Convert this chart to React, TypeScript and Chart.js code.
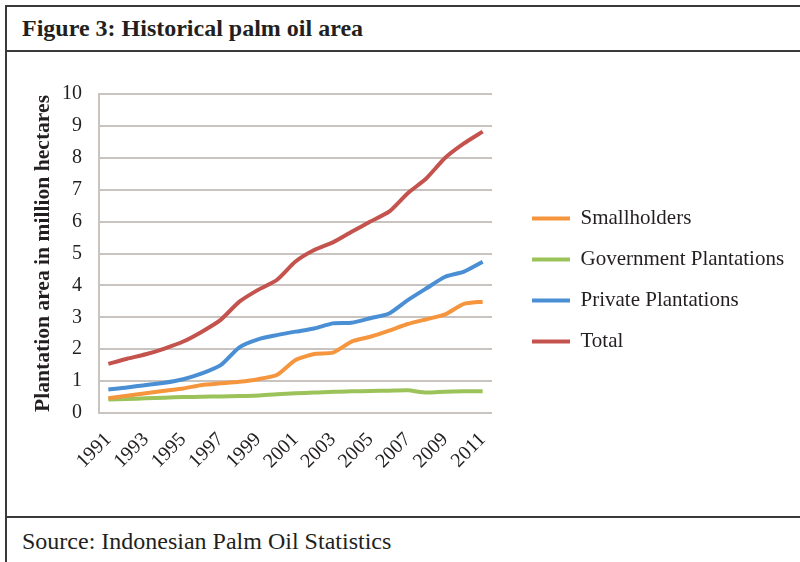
import React, { useEffect, useRef } from "react";
import { Chart, registerables } from "chart.js";

Chart.register(...registerables);

const years = ["1991","1992","1993","1994","1995","1996","1997","1998","1999","2000","2001","2002","2003","2004","2005","2006","2007","2008","2009","2010","2011"];
const smallholders = [0.46,0.54,0.62,0.70,0.77,0.88,0.93,0.98,1.06,1.19,1.66,1.85,1.89,2.24,2.39,2.58,2.79,2.94,3.09,3.42,3.49];
const government = [0.42,0.44,0.46,0.48,0.50,0.51,0.52,0.53,0.55,0.59,0.62,0.64,0.67,0.68,0.69,0.70,0.71,0.64,0.67,0.68,0.68];
const privatePl = [0.74,0.80,0.88,0.95,1.06,1.24,1.50,2.06,2.31,2.44,2.55,2.65,2.81,2.83,2.97,3.12,3.54,3.91,4.27,4.43,4.74];
const total = [1.54,1.70,1.84,2.02,2.24,2.55,2.92,3.49,3.86,4.17,4.75,5.11,5.35,5.68,6.00,6.31,6.89,7.36,8.00,8.45,8.82];
const seriesNames = ["Smallholders","Government Plantations","Private Plantations","Total"];
const seriesColors = ["#F5963F","#9BC35A","#4A8FD4","#C4534E"];

const FONT = "'Liberation Serif', 'Times New Roman', serif";
const TEXT = "#231f20";
const GRID = "#c9c4bf";

export default function App() {
  const ref = useRef<HTMLCanvasElement | null>(null);
  useEffect(() => {
    const canvas = ref.current;
    if (!canvas) return;
    const legendFontSize = 21;
    const mctx = canvas.getContext("2d")!;
    mctx.font = `normal ${legendFontSize}px ${FONT}`;
    const maxText = Math.max(...seriesNames.map((s) => mctx.measureText(s).width));
    const legendPad = 20;
    const boxW = 38;
    const legendLeft = 505;
    const legendWidth = legendPad + boxW + legendFontSize / 2 + maxText + 10;
    const padRight = Math.max(0, 793 - legendLeft - legendWidth);

    const values = [smallholders, government, privatePl, total];
    const chart = new Chart(canvas, {
      type: "line",
      data: {
        labels: years,
        datasets: seriesNames.map((name, i) => ({
          label: name,
          data: values[i],
          borderColor: seriesColors[i],
          backgroundColor: seriesColors[i],
          borderWidth: 4,
          pointRadius: 0,
          tension: 0.2,
          fill: false,
        })),
      },
      options: {
        animation: false,
        responsive: false,
        devicePixelRatio: 1,
        layout: { padding: { top: 42, bottom: 0, left: 0, right: padRight } },
        plugins: {
          tooltip: { enabled: false },
          legend: {
            position: "right",
            align: "start",
            maxWidth: 320,
            title: {
              display: true,
              text: "",
              font: { size: 10, family: FONT },
              padding: { top: 82, bottom: 0 },
            },
            labels: {
              boxWidth: boxW,
              boxHeight: 4,
              padding: legendPad,
              color: TEXT,
              font: { family: FONT, size: legendFontSize },
              generateLabels: (c: any) =>
                c.data.datasets.map((ds: any, i: number) => ({
                  text: ds.label,
                  fillStyle: ds.borderColor,
                  strokeStyle: ds.borderColor,
                  lineWidth: 0,
                  hidden: false,
                  datasetIndex: i,
                  fontColor: TEXT,
                })),
            },
          },
        },
        scales: {
          x: {
            type: "category",
            offset: true,
            grid: { display: false },
            border: { display: false },
            ticks: {
              autoSkip: false,
              maxRotation: 45,
              minRotation: 45,
              padding: 7,
              color: TEXT,
              font: { family: FONT, size: 20 },
              callback: (_v: any, idx: number) => (idx % 2 === 0 ? years[idx] : ""),
            },
            afterFit: (s: any) => {
              s.height = 103;
            },
          },
          y: {
            position: "left",
            min: 0,
            max: 10,
            ticks: {
              stepSize: 1,
              padding: 17,
              color: TEXT,
              font: { family: FONT, size: 20 },
            },
            grid: { color: GRID, lineWidth: 2, drawTicks: false },
            border: { display: true, color: GRID, width: 2 },
            title: {
              display: true,
              text: "Plantation area in million hectares",
              color: TEXT,
              font: { family: FONT, size: 21.6, weight: "bold" },
              padding: { top: 23, bottom: 0 },
            },
            afterFit: (s: any) => {
              s.width = 92;
            },
          },
          yRight: {
            position: "right",
            min: 0,
            max: 1,
            grid: { display: false },
            border: { display: false },
            ticks: { display: false },
            afterFit: (s: any) => {
              s.width = 20;
            },
          },
        },
      },
    } as any);
    return () => chart.destroy();
  }, []);

  const line = (style: React.CSSProperties) => (
    <div style={{ position: "absolute", background: "#3a3a3a", ...style }} />
  );

  return (
    <div style={{ position: "absolute", left: 0, top: 0, width: 800, height: 562, background: "#fff", overflow: "hidden" }}>
      {line({ left: 5, top: 5, width: 795, height: 2 })}
      {line({ left: 5, top: 5, width: 2, height: 557 })}
      {line({ left: 5, top: 50, width: 795, height: 2 })}
      {line({ left: 5, top: 516, width: 795, height: 2 })}
      <div style={{ position: "absolute", left: 22, top: 12, fontFamily: FONT, fontWeight: "bold", fontSize: 24, color: TEXT, lineHeight: "32px", whiteSpace: "nowrap" }}>
        Figure 3: Historical palm oil area
      </div>
      <div style={{ position: "absolute", left: 22, top: 525, fontFamily: FONT, fontSize: 24, color: TEXT, lineHeight: "32px", whiteSpace: "nowrap" }}>
        Source: Indonesian Palm Oil Statistics
      </div>
      <canvas
        ref={ref}
        width={793}
        height={464}
        style={{ position: "absolute", left: 7, top: 52, width: 793, height: 464 }}
      />
    </div>
  );
}
